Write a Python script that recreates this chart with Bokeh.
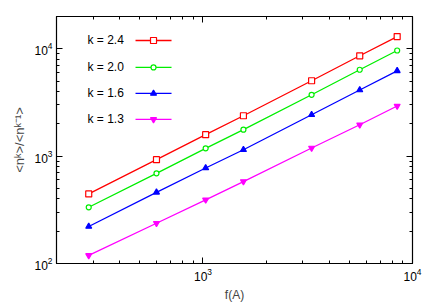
import numpy as np
from bokeh.plotting import figure
from bokeh.models import LogAxis, Range1d, FixedTicker, CustomJSTickFormatter
from bokeh.core.properties import value
from bokeh.embed import file_html
from bokeh.resources import INLINE

# data
f_vals = [285, 600, 1030, 1560, 3300, 5600, 8450]
k24 = [445, 927, 1585, 2380, 5040, 8610, 13000]
k20 = [334, 692, 1183, 1765, 3730, 6380, 9640]
k16 = [221, 460, 776, 1148, 2430, 4130, 6240]
k13 = [119, 237, 392, 580, 1192, 1963, 2930]
labels = ["k = 2.4", "k = 2.0", "k = 1.6", "k = 1.3"]
colors = ["#ff0000", "#00ee00", "#0000ff", "#ff00ff"]
x_major = [1000, 10000]
y_major = [100, 1000, 10000]

FONT = "Liberation Sans"
XMIN, XMAX = 200, 10000
YMIN, YMAX = 100, 20000

def minors(lo, hi):
    out = []
    d = 10 ** int(np.floor(np.log10(lo)))
    while d < hi:
        for m in range(2, 10):
            v = m * d
            if lo <= v <= hi:
                out.append(v)
        d *= 10
    return out

x_minor = minors(XMIN, XMAX)
y_minor = minors(YMIN, YMAX)

p = figure(width=436, height=305, x_axis_type="log", y_axis_type="log",
           x_range=Range1d(XMIN, XMAX), y_range=Range1d(YMIN, YMAX),
           output_backend="svg", toolbar_location=None,
           min_border_left=56, min_border_right=24, min_border_top=16, min_border_bottom=42)
p.xgrid.visible = False
p.ygrid.visible = False
p.outline_line_color = "black"
p.outline_line_width = 1.2
p.background_fill_color = "white"
p.border_fill_color = "white"

p.xaxis[0].ticker = FixedTicker(ticks=x_major, minor_ticks=x_minor)
p.yaxis[0].ticker = FixedTicker(ticks=y_major, minor_ticks=y_minor)

for ax in [p.xaxis[0], p.yaxis[0]]:
    ax.major_tick_in = 6
    ax.major_tick_out = 0
    ax.minor_tick_in = 3
    ax.minor_tick_out = 0
    ax.axis_line_color = "black"
    ax.major_label_text_font = FONT
    ax.major_label_text_font_size = "12px"
    ax.major_label_text_color = "black"
    ax.axis_label_text_font = FONT
    ax.axis_label_text_font_size = "12px"
    ax.axis_label_text_font_style = "normal"
    ax.major_label_standoff = 4

p.xaxis.axis_label = "f(A)"
p.yaxis.axis_label = "<nᵏ>/<nᵏ⁻¹>"
p.yaxis.axis_label_text_font_size = "13px"
p.xaxis.axis_label_standoff = 4
p.yaxis.axis_label_standoff = 4

for loc, mj, mn in [("right", y_major, y_minor), ("above", x_major, x_minor)]:
    a = LogAxis(ticker=FixedTicker(ticks=mj, minor_ticks=mn),
                major_tick_in=6, major_tick_out=0,
                minor_tick_in=3, minor_tick_out=0, axis_line_color=None,
                formatter=CustomJSTickFormatter(code="return ''"))
    p.add_layout(a, loc)

series = [k24, k20, k16, k13]
markers = ["square", "circle", "triangle", "inverted_triangle"]
sizes = [6, 5, 6, 6]
fills = [None, None, "c", "c"]

for ys, c, m, s, fl in zip(series, colors, markers, sizes, fills):
    p.line(f_vals, ys, line_color=c, line_width=1.3)
    p.scatter(f_vals, ys, marker=m, size=s, line_color=c, line_width=1.2,
              fill_color=(c if fl else "white"))

# legend (label left of sample)
lx0 = np.log10(XMIN)
xdec = 209.5
ytop = np.log10(YMAX)
ydec = 107.4
def xd(px):
    return 10 ** (lx0 + px / xdec)
def yd(py):
    return 10 ** (ytop - py / ydec)
rows = [24, 51, 77, 103]
for lab, c, m, s, fl, r in zip(labels, colors, markers, sizes, fills, rows):
    p.text([xd(31)], [yd(r)], text=[lab], text_font=value(FONT), text_font_size="12px",
           text_baseline="middle", text_align="left", text_color="black")
    p.line([xd(79), xd(115)], [yd(r), yd(r)], line_color=c, line_width=1.3)
    p.scatter([xd(97)], [yd(r)], marker=m, size=s, line_color=c, line_width=1.2,
              fill_color=(c if fl else "white"))

open("out.html", "w").write(file_html(p, INLINE))
